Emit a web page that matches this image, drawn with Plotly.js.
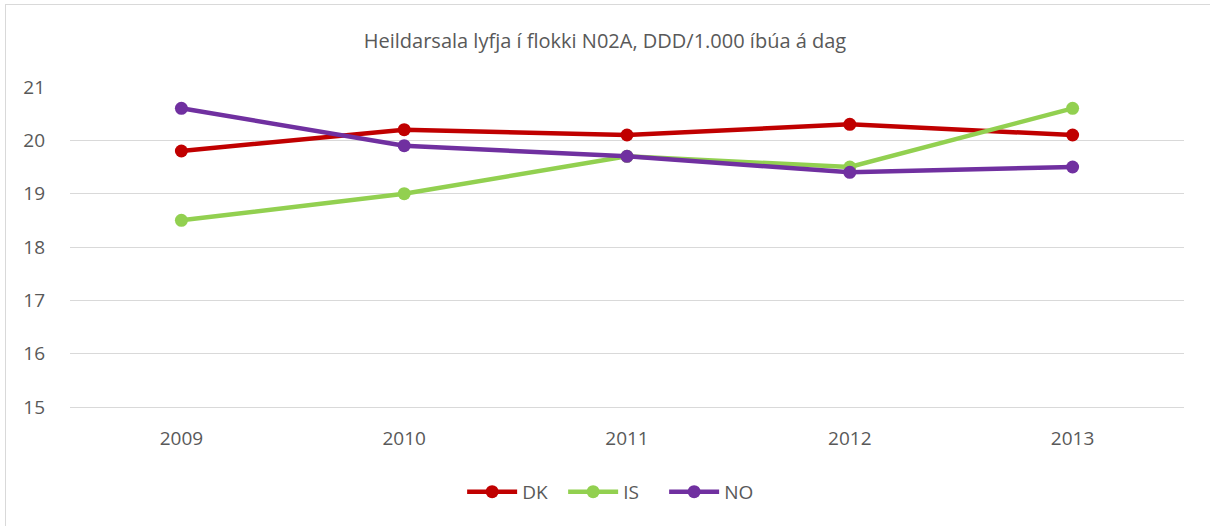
<!DOCTYPE html>
<html><head><meta charset="utf-8">
<script src="https://cdn.plot.ly/plotly-3.0.1.min.js"></script>
<style>
html,body{margin:0;padding:0;background:#fff;}
#wrap{position:relative;width:1210px;height:526px;}
#frame{position:absolute;left:5px;top:4px;right:-2px;bottom:-2px;border-left:1px solid #d9d9d9;border-top:1px solid #d9d9d9;pointer-events:none;z-index:5;}
#chart{width:1210px;height:526px;}
</style></head>
<body><div id="wrap"><div id="chart"></div><div id="frame"></div></div>
<script>
const years = ['2009','2010','2011','2012','2013'];
const dk = [19.8, 20.2, 20.1, 20.3, 20.1];
const is = [18.5, 19.0, 19.7, 19.5, 20.6];
const no = [20.6, 19.9, 19.7, 19.4, 19.5];
const names = ['DK','IS','NO'];
const colors = ['#c00000','#92d050','#7030a0'];
const series = [dk, is, no];
const traces = series.map((s,i)=>({
  x: years, y: s, name: names[i], type:'scatter', mode:'lines+markers',
  line:{color:colors[i], width:4.5}, marker:{color:colors[i], size:13}
}));
const layout = {
  width:1210, height:526,
  margin:{l:70, r:26, t:87, b:119},
  paper_bgcolor:'#fff', plot_bgcolor:'#fff',
  font:{family:'Open Sans, sans-serif', color:'#595959', size:19},
  title:{text:'Heildarsala lyfja í flokki N02A, DDD/1.000 íbúa á dag', x:0.5, xanchor:'center', y:0.922, yanchor:'middle', font:{size:20, color:'#595959'}},
  xaxis:{type:'category', range:[-0.5,4.5], showgrid:false, zeroline:false, showline:true, linecolor:'#d9d9d9', linewidth:1, ticks:'', tickfont:{size:19, color:'#595959'}, ticklabelstandoff:14},
  yaxis:{range:[15,21], dtick:1, showgrid:true, gridcolor:'#d9d9d9', gridwidth:1, zeroline:false, showline:false, ticks:'', tickfont:{size:19, color:'#595959'}, ticklabelstandoff:24},
  showlegend:true,
  legend:{orientation:'h', x:0.488, xanchor:'center', y:-0.265, yanchor:'middle', font:{size:19, color:'#595959'}, itemwidth:50, entrywidth:36}
};
Plotly.newPlot('chart', traces, layout, {displayModeBar:false});
</script></body></html>
